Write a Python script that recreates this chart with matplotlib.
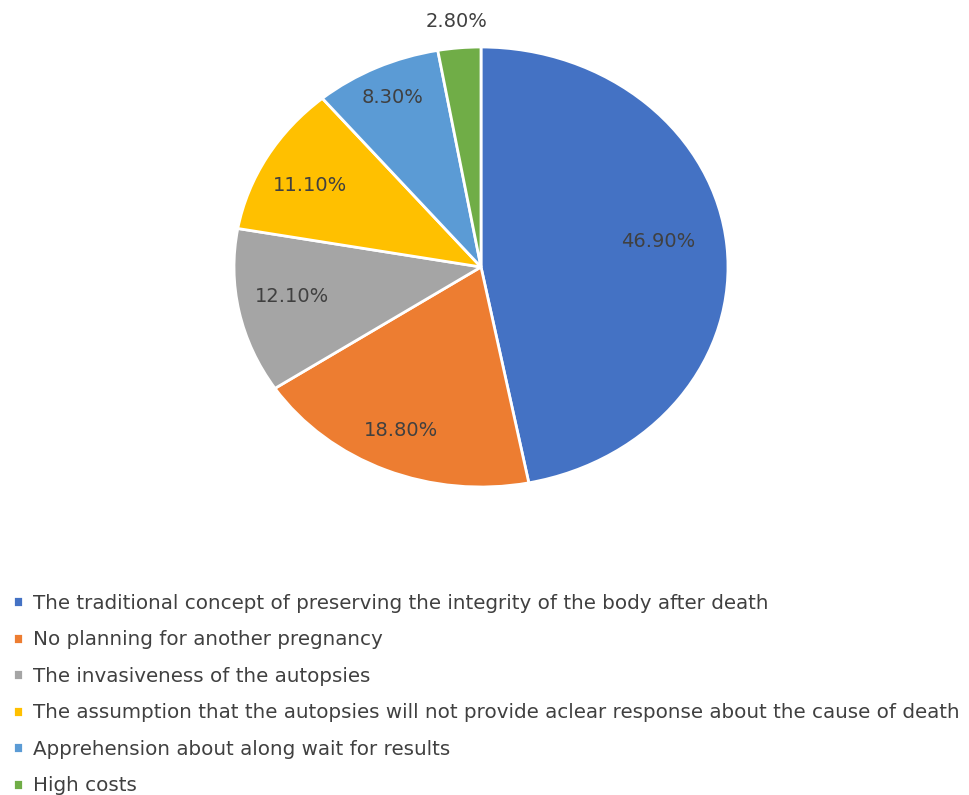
import numpy as np
import matplotlib.pyplot as plt

plt.rcParams['font.family'] = ['DejaVu Sans']

# reasons given for declining autopsy (%)
reasons = [
    'The traditional concept of preserving the integrity of the body after death',
    'No planning for another pregnancy',
    'The invasiveness of the autopsies',
    'The assumption that the autopsies will not provide aclear response about the cause of death',
    'Apprehension about along wait for results',
    'High costs',
]
shares = [46.9, 18.8, 12.1, 11.1, 8.3, 2.8]
colors = ['#4472C4', '#ED7D31', '#A5A5A5', '#FFC000', '#5B9BD5', '#70AD47']

# percentage label placement: fraction of radius, and angle nudge in degrees
label_r = [0.727, 0.81, 0.776, 0.784, 0.85, 1.12]
label_nudge = [3.7, -1.0, -1.9, 2.0, 0.0, 0.0]

fig = plt.figure(figsize=(9.69, 7.95), dpi=100)
ax = fig.add_axes([234 / 969, 308 / 795, 494 / 969, 440 / 795])

wedges, _ = ax.pie(shares, colors=colors, startangle=90, counterclock=False,
                   wedgeprops=dict(edgecolor='white', linewidth=2))
ax.set_aspect('auto')
ax.set_xlim(-1, 1)
ax.set_ylim(-1, 1)

for w, v, r, d in zip(wedges, shares, label_r, label_nudge):
    ang = np.deg2rad((w.theta1 + w.theta2) / 2 + d)
    ax.text(r * np.cos(ang), r * np.sin(ang), f'{v:.2f}%',
            ha='center', va='center', fontsize=14, color='#404040')

fig.legend(wedges, reasons, loc='upper left', bbox_to_anchor=(0.0134, 0.253),
           frameon=False, fontsize=14.3, handlelength=0.5, handleheight=0.5,
           handletextpad=0.5, labelspacing=0.88, labelcolor='#404040',
           borderpad=0, borderaxespad=0)

fig.savefig('out.png', dpi=100)
